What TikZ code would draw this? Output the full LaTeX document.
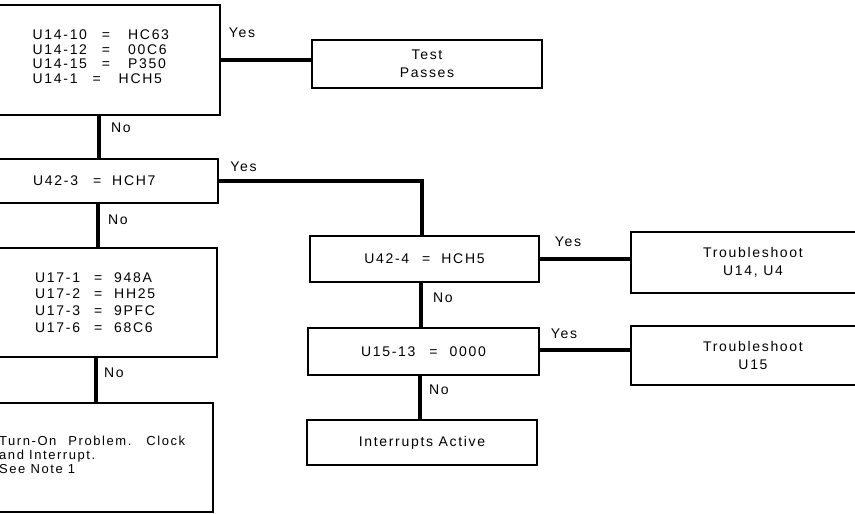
\documentclass[tikz,border=0pt]{standalone}
\usepackage{fontspec}
\setmainfont{Liberation Sans}[LetterSpace=12]
\newcommand\eqq[2]{\hspace{#1}=\hspace{#2}}
\begin{document}
\begin{tikzpicture}[x=1pt,y=-1pt,
  box/.style={draw, line width=1.9pt, inner sep=0pt, align=center,
              font=\fontsize{14}{17.5}\selectfont},
  conn/.style={line width=4.5pt},
  lbl/.style={font=\fontsize{14}{15}\selectfont, inner sep=0pt},
  txt/.style={inner sep=0pt, align=left}]
\useasboundingbox (0,0) rectangle (855,514);
\clip (0,0) rectangle (855,514);
% left column boxes
\node[box, minimum width=230pt, minimum height=110pt] (t1) at (105,60) {};
\node[box, minimum width=228pt, minimum height=44pt] (t2) at (104,181) {};
\node[box, minimum width=227pt, minimum height=109pt] (t3) at (103.5,302.5) {};
\node[box, minimum width=223pt, minimum height=109pt] (t4) at (101.5,457.5) {};
% right boxes
\node[box, minimum width=230pt, minimum height=48pt] (pass) at (427,64) {Test\\Passes};
\node[box, minimum width=229pt, minimum height=46pt] (r1) at (424.5,259) {U42-4\eqq{13pt}{11pt}HCH5};
\node[box, minimum width=231pt, minimum height=47pt] (r2) at (423.5,351.5) {\raisebox{-2pt}{U15-13\eqq{14pt}{12pt}0000}};
\node[box, minimum width=230pt, minimum height=45pt] (r3) at (422,442.5) {\raisebox{-1.5pt}{Interrupts Active}};
\node[box, minimum width=244pt, minimum height=61pt] (ts1) at (753,262.5) {Troubleshoot\\U14, U4};
\node[box, minimum width=244pt, minimum height=59pt] (ts2) at (753,355.5) {Troubleshoot\\U15};
% texts of left boxes
\node[txt, anchor=west, font=\fontsize{14}{14.5}\selectfont] (t1text) at (32.5,56.5)
  {U14-10\eqq{15pt}{18pt}HC63\\U14-12\eqq{15pt}{18pt}00C6\\U14-15\eqq{15pt}{18pt}P350\\U14-1\eqq{15pt}{18pt}HCH5};
\node[txt, anchor=west, font=\fontsize{14}{15}\selectfont] (t2text) at (33,181) {U42-3\eqq{15pt}{11pt}HCH7};
\node[txt, anchor=west, font=\fontsize{14}{16.7}\selectfont] (t3text) at (35,302.3)
  {U17-1\eqq{14pt}{12pt}948A\\U17-2\eqq{14pt}{12pt}HH25\\U17-3\eqq{14pt}{12pt}9PFC\\U17-6\eqq{14pt}{12pt}68C6};
\node[txt, anchor=north west, font=\fontsize{13}{14}\selectfont] (t4text) at (-1,435.5)
  {Turn-On\hspace{12pt}Problem.\hspace{15pt}Clock\\and Interrupt.\\See Note 1};
% connectors
\draw[conn] (t1.east) -- (t1.east -| pass.west);
\draw[conn] ([xshift=-6pt]t1.south) -- ([xshift=-6pt]t1.south |- t2.north);
\draw[conn] ([xshift=-6pt]t2.south) -- ([xshift=-6pt]t2.south |- t3.north);
\draw[conn] ([xshift=-7.5pt]t3.south) -- ([xshift=-7.5pt]t3.south |- t4.north);
\draw[conn] (t2.east) -| ([xshift=-2.5pt]r1.north);
\draw[conn] ([xshift=-3.5pt]r1.south) -- ([xshift=-3.5pt]r1.south |- r2.north);
\draw[conn] ([xshift=-3.5pt]r2.south) -- ([xshift=-3.5pt]r2.south |- r3.north);
\draw[conn] (r1.east) -- (r1.east -| ts1.west);
\draw[conn] ([yshift=1.5pt]r2.east) -- ([yshift=1.5pt]r2.east -| ts2.west);
% labels
\node[lbl] (y1) at (242,33) {Yes};
\node[lbl] (y2) at (243.5,167) {Yes};
\node[lbl] (y3) at (568,242) {Yes};
\node[lbl] (y4) at (564,334) {Yes};
\node[lbl] (n1) at (121,128) {No};
\node[lbl] (n2) at (118,220) {No};
\node[lbl] (n3) at (114,373) {No};
\node[lbl] (n4) at (443,298) {No};
\node[lbl] (n5) at (439,390) {No};
\end{tikzpicture}
\end{document}
